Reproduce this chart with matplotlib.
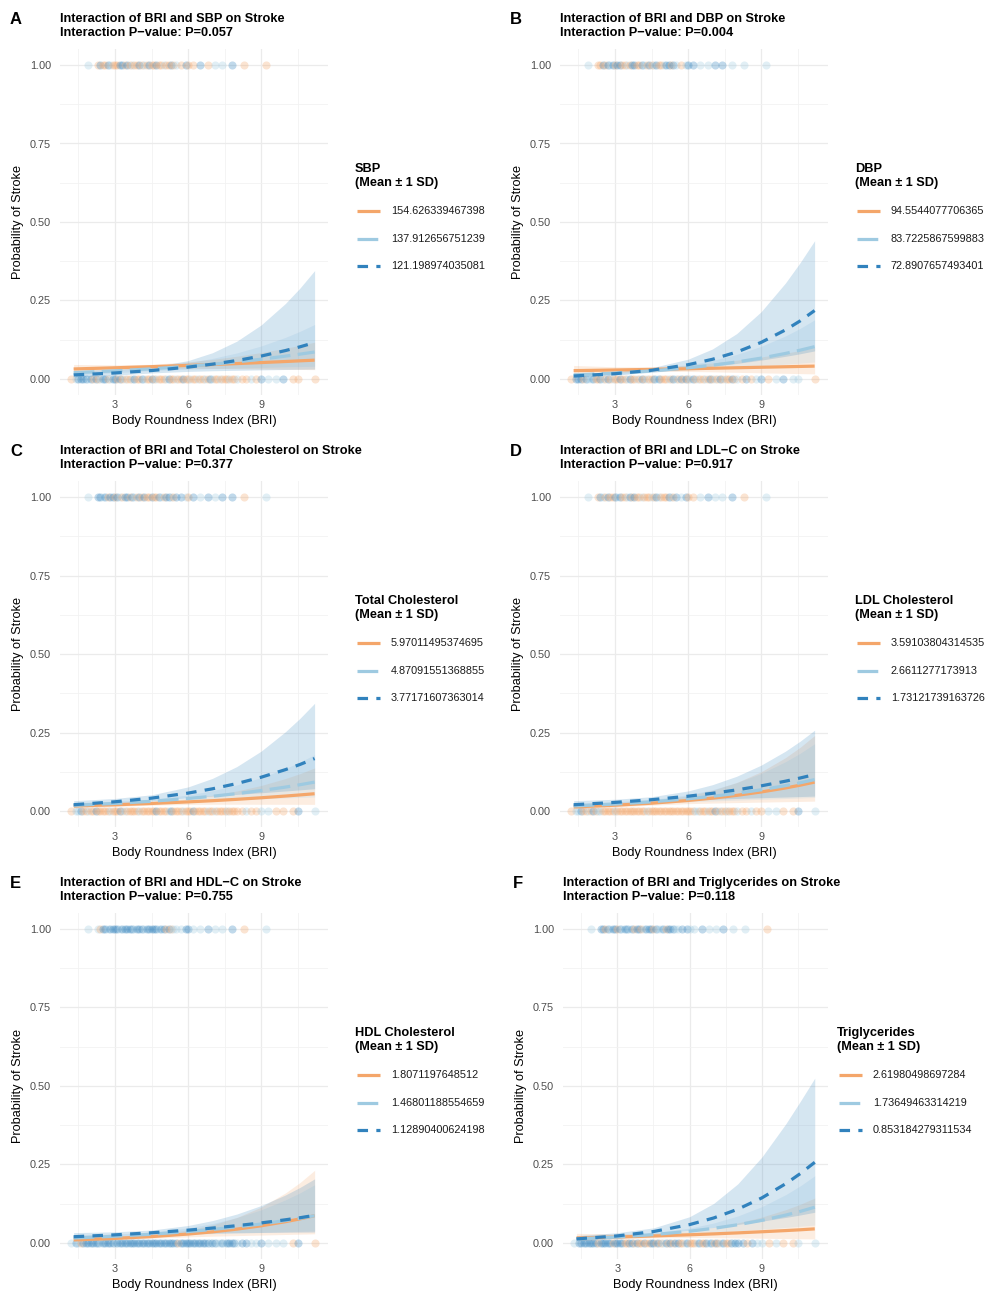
import matplotlib.pyplot as plt
from matplotlib.lines import Line2D

W, H = 987, 1295
plt.rcParams['font.family'] = ['Liberation Sans', 'DejaVu Sans']

# level colours / styles: mean+1SD, mean, mean-1SD
level_colors = ['#F4A66A', '#9ECAE1', '#3182BD']
level_dashes = [None, (6.5, 2.3), (3.3, 2.6)]

# BRI values where the fitted curves were read
bri_grid = [1.3, 3.0, 4.5, 6.0, 7.0, 8.0, 9.0, 10.0, 10.6, 11.2]

# observed BRI values of subjects with stroke (y=1) and without (y=0)
stroke_bri = [1.9, 2.3, 2.4, 2.5, 2.6, 2.7, 2.8, 2.9, 3.0, 3.1, 3.2, 3.3, 3.4, 3.5, 3.6,
              3.7, 3.8, 3.9, 4.0, 4.1, 4.2, 4.3, 4.4, 4.5, 4.6, 4.7, 4.8, 4.9, 5.0, 5.1,
              5.2, 5.3, 5.4, 5.5, 5.7, 5.9, 6.0, 6.2, 6.5, 6.8, 7.1, 7.4, 7.8, 8.3, 9.2]
no_stroke_bri = [1.2, 1.4, 1.5, 1.6, 1.7, 1.8, 1.9, 2.0, 2.1, 2.2, 2.3, 2.4, 2.5, 2.6, 2.7,
                 2.8, 2.9, 3.0, 3.1, 3.2, 3.3, 3.4, 3.5, 3.6, 3.7, 3.8, 3.9, 4.0, 4.1, 4.2,
                 4.3, 4.4, 4.5, 4.6, 4.7, 4.8, 4.9, 5.0, 5.1, 5.2, 5.3, 5.4, 5.5, 5.6, 5.7,
                 5.8, 5.9, 6.0, 6.1, 6.2, 6.3, 6.4, 6.5, 6.6, 6.7, 6.8, 6.9, 7.0, 7.1, 7.2,
                 7.3, 7.4, 7.5, 7.6, 7.7, 7.8, 7.9, 8.0, 8.2, 8.4, 8.6, 8.8, 9.0, 9.3, 9.6,
                 9.9, 10.3, 10.5, 11.2]

# moderator level of each point (o = high, l = mean, b = low), per panel
sbp_stroke_grp = 'l' + 'oboob' 'looob' 'bobol' 'oobol' 'oboob' 'ooloo' 'bolob' 'oobol' + 'lboo'
sbp_none_grp = 'ol' + 'bbbblbobol' 'bbolbbobol' 'oolboobloo' 'bolooolboo' 'looboolool' 'oolobloolo' 'oolool' + 'oolobllbooo'
dbp_stroke_grp = 'l' + 'oobob' 'lbobb' 'oolob' 'boobl' 'obolb' 'oolbb' 'oblol' 'bbllb' + 'blllo'
dbp_none_grp = 'ob' + 'bbobllboob' 'lobolooboo' 'lboolobolo' 'oblbooolob' 'lobobolbol' 'oolobolobo' 'loobol' + 'obolbolbllo'
tc_stroke_grp = 'l' + 'bblbo' 'bbobl' 'obbob' 'lobob' 'ooboo' 'blobb' 'lobbl' 'oblbl' + 'bbol'
tc_none_grp = 'ol' + 'lboolooboo' 'ooolooobol' 'oooooloooo' 'ooboooolbo' 'oooloooboo' 'oooloolooo' 'oloooo' + 'oloollooobl'
ldl_stroke_grp = 'l' + 'oblob' 'ooblb' 'oolbo' 'boolo' 'oolob' 'looob' 'loblb' 'oolbl' + 'lbol'
ldl_none_grp = 'ol' + 'lbooloboll' 'oooooloooo' 'oooooooolo' 'oooooooooo' 'ooooooooll' 'oooloobolo' 'oloool' + 'ooloolloobl'
hdl_stroke_grp = 'l' + 'lobbl' 'bbbbl' 'bbbbb' 'lbbbl' 'bbbbb' 'lbbob' 'olllb' 'bllbl' + 'lbol'
hdl_none_grp = 'lb' + 'lobbbbbbbl' 'bbbbblbbbb' 'bbbbbbbbbb' 'bbbbbbbbbb' 'bobbbbbbbb' 'bbbblbbllb' 'lbbbbl' + 'bbllblllobo'
tg_stroke_grp = 'l' + 'bbobl' 'bbobl' 'bblbo' 'bbolb' 'bbobl' 'lbobb' 'bllbb' 'llbll' + 'bllo'
tg_none_grp = 'lb' + 'bbbbbbbobb' 'bbbobbbboo' 'bbobooboob' 'bobolbobob' 'boolbooolb' 'ooblbobolb' 'ooblbb' + 'bobllolooll'

# fitted probability and 95% CI at bri_grid: [mean+1SD, mean, mean-1SD]
sbp_fit = [[0.032, 0.0357, 0.0393, 0.0433, 0.0461, 0.0491, 0.0523, 0.0557, 0.0579, 0.060],
           [0.020, 0.0259, 0.0324, 0.0406, 0.047, 0.0545, 0.063, 0.0728, 0.0792, 0.086],
           [0.013, 0.0192, 0.0269, 0.0378, 0.0472, 0.0588, 0.073, 0.0905, 0.1025, 0.116]]
sbp_lower = [[0.022, 0.0283, 0.0329, 0.0343, 0.0339, 0.0331, 0.0321, 0.0311, 0.0305, 0.0299],
             [0.0132, 0.020, 0.0267, 0.0315, 0.0335, 0.0354, 0.0371, 0.0388, 0.0397, 0.0407],
             [0.0063, 0.0122, 0.0192, 0.0242, 0.0262, 0.0277, 0.029, 0.0303, 0.031, 0.0317]]
sbp_upper = [[0.0463, 0.045, 0.0468, 0.0545, 0.0624, 0.0724, 0.0841, 0.0978, 0.1071, 0.1171],
             [0.0302, 0.0335, 0.0393, 0.0522, 0.0655, 0.0829, 0.1051, 0.1325, 0.1519, 0.1736],
             [0.0266, 0.0301, 0.0377, 0.0586, 0.0836, 0.1203, 0.1719, 0.2405, 0.2897, 0.3452]]

dbp_fit = [[0.0266, 0.0287, 0.0306, 0.0327, 0.0342, 0.0358, 0.0374, 0.039, 0.040, 0.041],
           [0.013, 0.0188, 0.0258, 0.0356, 0.044, 0.0541, 0.0665, 0.0814, 0.0917, 0.103],
           [0.0096, 0.0169, 0.0278, 0.0455, 0.0627, 0.0858, 0.1165, 0.1562, 0.1847, 0.218]]
dbp_lower = [[0.0163, 0.0211, 0.0243, 0.0241, 0.0228, 0.0212, 0.0196, 0.0181, 0.0172, 0.0163],
             [0.009, 0.0149, 0.0218, 0.0285, 0.0327, 0.0372, 0.0419, 0.0471, 0.0505, 0.0542],
             [0.0056, 0.0121, 0.0216, 0.0327, 0.0406, 0.0496, 0.0601, 0.0722, 0.0803, 0.0895]]
dbp_upper = [[0.0431, 0.0388, 0.0385, 0.0443, 0.051, 0.0596, 0.0699, 0.0822, 0.0905, 0.0998],
             [0.0187, 0.0236, 0.0306, 0.0445, 0.0588, 0.0783, 0.1039, 0.137, 0.161, 0.1885],
             [0.0164, 0.0237, 0.0358, 0.063, 0.0955, 0.1446, 0.214, 0.3056, 0.370, 0.4403]]

tc_fit = [[0.016, 0.0198, 0.024, 0.029, 0.0328, 0.0372, 0.0421, 0.0476, 0.0512, 0.055],
          [0.018, 0.0242, 0.031, 0.0398, 0.0469, 0.0553, 0.065, 0.0761, 0.0837, 0.092],
          [0.020, 0.0294, 0.0409, 0.057, 0.0706, 0.0873, 0.1075, 0.1317, 0.1482, 0.167]]
tc_lower = [[0.0095, 0.0143, 0.0187, 0.021, 0.0214, 0.0215, 0.0214, 0.0213, 0.0212, 0.0211],
            [0.0122, 0.0188, 0.0257, 0.0311, 0.0339, 0.0365, 0.039, 0.0416, 0.0432, 0.0448],
            [0.0122, 0.0215, 0.0325, 0.0421, 0.0475, 0.0528, 0.0581, 0.0638, 0.0673, 0.0711]]
tc_upper = [[0.0268, 0.0274, 0.0305, 0.0399, 0.050, 0.0636, 0.0811, 0.1032, 0.119, 0.137],
            [0.027, 0.031, 0.0374, 0.0508, 0.0646, 0.0828, 0.1062, 0.1353, 0.1559, 0.1795],
            [0.0328, 0.040, 0.0515, 0.0766, 0.1038, 0.1413, 0.1905, 0.2524, 0.2953, 0.343]]

ldl_fit = [[0.013, 0.0184, 0.0248, 0.0335, 0.0409, 0.0498, 0.0605, 0.0733, 0.0821, 0.092],
           [0.016, 0.0221, 0.0293, 0.0389, 0.0468, 0.0562, 0.0675, 0.0807, 0.0897, 0.100],
           [0.020, 0.0274, 0.036, 0.0471, 0.0563, 0.0672, 0.080, 0.0949, 0.105, 0.116]]
ldl_lower = [[0.0072, 0.0127, 0.0187, 0.0233, 0.0252, 0.0268, 0.0283, 0.0297, 0.0305, 0.0314],
             [0.010, 0.0165, 0.0236, 0.0291, 0.032, 0.0346, 0.0373, 0.0398, 0.0414, 0.0431],
             [0.0121, 0.020, 0.0284, 0.0346, 0.0375, 0.040, 0.0423, 0.0446, 0.046, 0.0474]]
ldl_upper = [[0.0234, 0.0265, 0.0327, 0.0482, 0.0657, 0.0907, 0.1248, 0.1698, 0.2026, 0.2405],
             [0.0254, 0.0295, 0.0364, 0.0517, 0.0679, 0.0902, 0.1193, 0.1568, 0.1835, 0.2142],
             [0.0329, 0.0374, 0.0454, 0.0638, 0.0837, 0.1107, 0.1459, 0.1905, 0.222, 0.2573]]

hdl_fit = [[0.010, 0.0146, 0.0204, 0.0285, 0.0354, 0.0441, 0.0547, 0.0678, 0.0768, 0.087],
           [0.016, 0.0215, 0.028, 0.0363, 0.0431, 0.0511, 0.0605, 0.0715, 0.0788, 0.087],
           [0.020, 0.026, 0.0326, 0.0409, 0.0475, 0.0552, 0.0639, 0.0739, 0.0805, 0.088]]
hdl_lower = [[0.0055, 0.010, 0.0154, 0.0196, 0.0217, 0.0235, 0.0253, 0.0271, 0.0282, 0.0293],
             [0.0102, 0.0162, 0.0226, 0.0274, 0.0298, 0.0319, 0.0339, 0.036, 0.0372, 0.0385],
             [0.0121, 0.0189, 0.0257, 0.030, 0.0315, 0.0325, 0.0334, 0.0341, 0.0345, 0.0349]]
hdl_upper = [[0.0181, 0.0212, 0.027, 0.0411, 0.0574, 0.081, 0.1143, 0.1593, 0.1925, 0.2315],
             [0.025, 0.0285, 0.0346, 0.0478, 0.0619, 0.0808, 0.1055, 0.1372, 0.1597, 0.1854],
             [0.0331, 0.0356, 0.0413, 0.0557, 0.0713, 0.0921, 0.1192, 0.1529, 0.177, 0.2043]]

tg_fit = [[0.016, 0.0191, 0.0224, 0.0262, 0.029, 0.0322, 0.0358, 0.0396, 0.0421, 0.045],
          [0.013, 0.0191, 0.0268, 0.0375, 0.0467, 0.0581, 0.072, 0.089, 0.1007, 0.114],
          [0.013, 0.0226, 0.0365, 0.0586, 0.0797, 0.1075, 0.1436, 0.1891, 0.2211, 0.257]]
tg_lower = [[0.0083, 0.0126, 0.0164, 0.0174, 0.0168, 0.016, 0.0151, 0.0141, 0.0135, 0.013],
            [0.0088, 0.015, 0.0223, 0.0294, 0.034, 0.0388, 0.044, 0.0497, 0.0534, 0.0573],
            [0.0071, 0.0155, 0.0275, 0.0407, 0.0495, 0.059, 0.0695, 0.0815, 0.0893, 0.098]]
tg_upper = [[0.0307, 0.0288, 0.0305, 0.0393, 0.0497, 0.0638, 0.0824, 0.1062, 0.1233, 0.1431],
            [0.0192, 0.0244, 0.0321, 0.0474, 0.0637, 0.086, 0.1157, 0.1543, 0.1821, 0.2142],
            [0.0236, 0.0328, 0.0482, 0.0837, 0.126, 0.1882, 0.2735, 0.3799, 0.4512, 0.525]]

sbp_levels = ['154.626339467398', '137.912656751239', '121.198974035081']
dbp_levels = ['94.5544077706365', '83.7225867599883', '72.8907657493401']
tc_levels = ['5.97011495374695', '4.87091551368855', '3.77171607363014']
ldl_levels = ['3.59103804314535', '2.6611277173913', '1.73121739163726']
hdl_levels = ['1.8071197648512', '1.46801188554659', '1.12890400624198']
tg_levels = ['2.61980498697284', '1.73649463314219', '0.853184279311534']

y_ticks = [0, 0.25, 0.5, 0.75, 1.0]
y_tick_labels = ['0.00', '0.25', '0.50', '0.75', '1.00']
x_ticks = [3, 6, 9]

grp_index = {'o': 0, 'l': 1, 'b': 2}


def fx(x):
    return x / W


def fy(y):
    return 1 - y / H


def draw_panel(fig, letter, left, right, top, title, pval, legend_title, levels,
               fit, lower, upper, stroke_grp, none_grp, legend_x):
    height = 345.4
    ax = fig.add_axes([fx(left), fy(top + height), (right - left) / W, height / H])
    ax.set_xlim(0.74, 11.75)
    ax.set_ylim(-0.05, 1.05)

    for xs, yv, grp in [(stroke_bri, 1, stroke_grp), (no_stroke_bri, 0, none_grp)]:
        for x, g in zip(xs, grp):
            ax.scatter(x, yv, s=34, color=level_colors[grp_index[g]], alpha=0.3,
                       linewidths=0, zorder=2)

    for i in range(3):
        ax.fill_between(bri_grid, lower[i], upper[i], color=level_colors[i],
                        alpha=0.2, linewidth=0, zorder=3)
    for i in range(3):
        line, = ax.plot(bri_grid, fit[i], color=level_colors[i], lw=2.3, zorder=4,
                        solid_capstyle='butt', dash_capstyle='butt')
        if level_dashes[i] is not None:
            line.set_dashes(level_dashes[i])

    ax.set_xticks(x_ticks)
    ax.set_xticks([1.5, 4.5, 7.5, 10.5], minor=True)
    ax.set_yticks(y_ticks)
    ax.set_yticklabels(y_tick_labels)
    ax.set_yticks([0.125, 0.375, 0.625, 0.875], minor=True)
    ax.grid(which='major', color='#EBEBEB', lw=0.9, zorder=0)
    ax.grid(which='minor', color='#F2F2F2', lw=0.6, zorder=0)
    ax.set_axisbelow(True)
    for s in ax.spines.values():
        s.set_visible(False)
    ax.tick_params(which='both', length=0, labelsize=7.8, labelcolor='#4D4D4D')
    ax.tick_params(axis='y', pad=6.5)
    ax.tick_params(axis='x', pad=4)

    fig.text(fx((left + right) / 2), fy(top + 372), 'Body Roundness Index (BRI)',
             ha='center', va='center', fontsize=9.2)
    fig.text(fx(left - 42), fy(top + 173), 'Probability of Stroke', rotation=90,
             ha='center', va='center', fontsize=9.2)

    fig.text(fx(left - 50), fy(top - 30), letter, fontsize=12, fontweight='bold',
             ha='left', va='center')
    fig.text(fx(left), fy(top - 30), title, fontsize=9.2, fontweight='bold',
             ha='left', va='center')
    fig.text(fx(left), fy(top - 16), 'Interaction P\u2212value: P=' + pval, fontsize=9.2,
             fontweight='bold', ha='left', va='center')

    # legend
    fig.text(fx(legend_x), fy(top + 120), legend_title, fontsize=9.2, fontweight='bold',
             ha='left', va='center')
    fig.text(fx(legend_x), fy(top + 134), '(Mean \u00b1 1 SD)', fontsize=9.2,
             fontweight='bold', ha='left', va='center')
    for i in range(3):
        yy = top + 162 + i * 27.5
        key = Line2D([fx(legend_x + 2), fx(legend_x + 25)], [fy(yy), fy(yy)],
                     transform=fig.transFigure, color=level_colors[i], lw=2.3,
                     solid_capstyle='butt', dash_capstyle='butt')
        if level_dashes[i] is not None:
            key.set_dashes(level_dashes[i])
        fig.add_artist(key)
        fig.text(fx(legend_x + 36), fy(yy), levels[i], fontsize=7.8, color='#1A1A1A',
                 ha='left', va='center')
    return ax


fig = plt.figure(figsize=(W / 100, H / 100), dpi=100)

draw_panel(fig, 'A', 60, 328, 49.3, 'Interaction of BRI and SBP on Stroke', '0.057',
           'SBP', sbp_levels, sbp_fit, sbp_lower, sbp_upper,
           sbp_stroke_grp, sbp_none_grp, 355)
draw_panel(fig, 'B', 560, 828, 49.3, 'Interaction of BRI and DBP on Stroke', '0.004',
           'DBP', dbp_levels, dbp_fit, dbp_lower, dbp_upper,
           dbp_stroke_grp, dbp_none_grp, 855)
draw_panel(fig, 'C', 60, 328, 481.3, 'Interaction of BRI and Total Cholesterol on Stroke',
           '0.377', 'Total Cholesterol', tc_levels, tc_fit, tc_lower, tc_upper,
           tc_stroke_grp, tc_none_grp, 355)
draw_panel(fig, 'D', 560, 828, 481.3, 'Interaction of BRI and LDL\u2212C on Stroke', '0.917',
           'LDL Cholesterol', ldl_levels, ldl_fit, ldl_lower, ldl_upper,
           ldl_stroke_grp, ldl_none_grp, 855)
draw_panel(fig, 'E', 60, 328, 913.3, 'Interaction of BRI and HDL\u2212C on Stroke', '0.755',
           'HDL Cholesterol', hdl_levels, hdl_fit, hdl_lower, hdl_upper,
           hdl_stroke_grp, hdl_none_grp, 355)
draw_panel(fig, 'F', 563, 828, 913.3, 'Interaction of BRI and Triglycerides on Stroke',
           '0.118', 'Triglycerides', tg_levels, tg_fit, tg_lower, tg_upper,
           tg_stroke_grp, tg_none_grp, 837)

fig.savefig('out.png', dpi=100, facecolor='white')
